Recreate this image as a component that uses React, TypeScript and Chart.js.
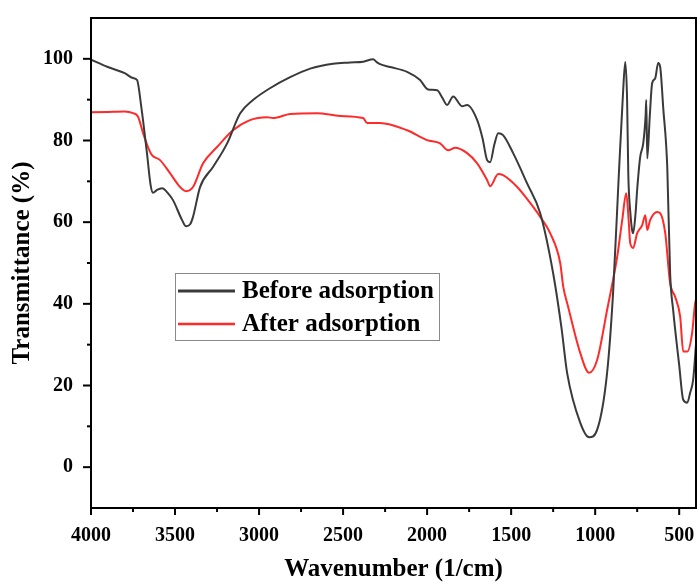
import React, { useEffect, useRef } from "react";
import { Chart, registerables } from "chart.js";

Chart.register(...registerables);

const seriesNames = ["Before adsorption", "After adsorption"];

const beforeX = [4000, 3900, 3800, 3750, 3726, 3700, 3667, 3645, 3631, 3607, 3577, 3540, 3512, 3458, 3435, 3410, 3393, 3351, 3274, 3190, 3113, 3036, 2935, 2815, 2696, 2560, 2458, 2380, 2321, 2300, 2280, 2220, 2119, 2042, 1994, 1940, 1910, 1881, 1845, 1792, 1762, 1702, 1670, 1643, 1625, 1600, 1577, 1548, 1488, 1405, 1327, 1250, 1200, 1167, 1089, 1036, 988, 929, 893, 860, 835, 821, 810, 803, 790, 780, 774, 760, 750, 732, 714, 700, 696, 690, 675, 661, 643, 625, 613, 595, 571, 554, 536, 500, 476, 452, 435, 417, 400];
const beforeY = [99.8, 98, 96.5, 95.3, 94.8, 88, 76.9, 69, 67.2, 67.9, 68.3, 67, 65.4, 60.5, 59, 59.5, 61.3, 68.6, 73.5, 79.3, 86.6, 89.9, 92.8, 95.5, 97.6, 98.8, 99.1, 99.3, 99.9, 99.2, 98.7, 98, 96.8, 94.8, 92.5, 92.3, 90.5, 88.7, 90.8, 88.4, 88.7, 85, 80.5, 75.2, 74.7, 79, 81.8, 81.3, 76.9, 69.5, 62.2, 47.5, 34, 23.1, 10.9, 7.3, 9.2, 23.1, 43, 71, 91, 99.2, 90, 72, 62, 58, 57.3, 62, 68, 76, 79.3, 86, 89.9, 75.6, 86, 94, 95.2, 99, 98, 88, 73.5, 47.5, 38.5, 25, 16.5, 15.8, 18.2, 21.4, 30];

const afterX = [4000, 3900, 3800, 3750, 3720, 3690, 3661, 3637, 3589, 3530, 3470, 3435, 3393, 3333, 3250, 3155, 3054, 2952, 2917, 2815, 2655, 2518, 2381, 2357, 2280, 2119, 2000, 1923, 1875, 1833, 1762, 1702, 1643, 1625, 1577, 1548, 1464, 1387, 1327, 1268, 1208, 1190, 1161, 1089, 1036, 988, 929, 869, 839, 815, 800, 792, 774, 750, 720, 702, 690, 673, 631, 613, 583, 554, 524, 494, 476, 452, 423, 405, 400];
const afterY = [86.9, 87, 87.1, 86.7, 85.8, 81.8, 78.4, 76.4, 75.2, 72, 68.6, 67.6, 68.6, 74.4, 78.4, 82.5, 85, 85.7, 85.5, 86.5, 86.7, 86, 85.5, 84.3, 84.3, 82.5, 80.1, 79.3, 77.6, 78.2, 76.9, 74.4, 70.3, 68.8, 71.8, 71.5, 68.6, 64.7, 61.3, 57.3, 50, 44.2, 39.3, 28, 23.1, 26.3, 38.5, 51.5, 60.5, 67.1, 60, 55, 53.7, 57.3, 59.3, 61.7, 58.1, 60.5, 62.5, 62.2, 57.3, 45.1, 41.7, 36.8, 28.3, 28.3, 32.9, 40.2, 41];

const xTicks = [4000, 3500, 3000, 2500, 2000, 1500, 1000, 500];
const xMinorTicks = [3750, 3250, 2750, 2250, 1750, 1250, 750];
const yTicks = [0, 20, 40, 60, 80, 100];
const yMinorTicks = [10, 30, 50, 70, 90];

const colors = ["#3a3a3a", "#ff2a2a"];
const FONT = "'Liberation Serif', 'Times New Roman', serif";

const framePlugin = {
  id: "frame",
  afterDatasetsDraw(chart: any) {
    const { ctx, chartArea: a, scales } = chart;
    const xs = scales.x;
    const ys = scales.y;
    ctx.save();
    ctx.strokeStyle = "#000";
    ctx.lineWidth = 2;
    ctx.strokeRect(a.left, a.top, a.right - a.left, a.bottom - a.top);
    ctx.lineWidth = 2;
    const drawX = (v: number, len: number) => {
      const p = xs.getPixelForValue(v);
      ctx.beginPath();
      ctx.moveTo(p, a.bottom);
      ctx.lineTo(p, a.bottom + len);
      ctx.stroke();
    };
    const drawY = (v: number, len: number) => {
      const p = ys.getPixelForValue(v);
      ctx.beginPath();
      ctx.moveTo(a.left, p);
      ctx.lineTo(a.left - len, p);
      ctx.stroke();
    };
    xTicks.forEach((v) => drawX(v, 7));
    xMinorTicks.forEach((v) => drawX(v, 4));
    yTicks.forEach((v) => drawY(v, 8));
    yMinorTicks.forEach((v) => drawY(v, 4));

    // legend
    const bx = a.left + 84;
    const by = a.top + 255;
    const bw = 264;
    const bh = 67;
    ctx.fillStyle = "#fff";
    ctx.fillRect(bx, by, bw, bh);
    ctx.strokeStyle = "#8a8a8a";
    ctx.lineWidth = 1;
    ctx.strokeRect(bx + 0.5, by + 0.5, bw, bh);
    ctx.font = `bold 25px ${FONT}`;
    ctx.textBaseline = "middle";
    ctx.textAlign = "left";
    chart.data.datasets.forEach((ds: any, i: number) => {
      const ly = by + 18 + i * 33;
      ctx.strokeStyle = ds.borderColor;
      ctx.lineWidth = i === 0 ? 3 : 2.5;
      ctx.beginPath();
      ctx.moveTo(bx + 3, ly);
      ctx.lineTo(bx + 60, ly);
      ctx.stroke();
      ctx.fillStyle = "#000";
      ctx.fillText(ds.label, bx + 67, ly + 1);
    });
    ctx.restore();
  },
};

export default function App() {
  const ref = useRef<HTMLCanvasElement>(null);
  useEffect(() => {
    if (!ref.current) return;
    const mk = (xs: number[], ys: number[]) => xs.map((x, i) => ({ x, y: ys[i] }));
    const chart = new Chart(ref.current, {
      type: "line",
      data: {
        datasets: [
          {
            label: seriesNames[0],
            data: mk(beforeX, beforeY),
            borderColor: colors[0],
            borderWidth: 2,
            pointRadius: 0,
            cubicInterpolationMode: "monotone",
          },
          {
            label: seriesNames[1],
            data: mk(afterX, afterY),
            borderColor: colors[1],
            borderWidth: 2,
            pointRadius: 0,
            cubicInterpolationMode: "monotone",
          },
        ],
      },
      options: {
        animation: false,
        responsive: false,
        devicePixelRatio: 1,
        layout: { padding: { top: 18, right: 1, left: 0, bottom: 0 } },
        plugins: { legend: { display: false }, tooltip: { enabled: false } },
        scales: {
          x: {
            type: "linear",
            reverse: true,
            min: 400,
            max: 4000,
            afterBuildTicks: (s: any) => {
              s.ticks = xTicks.map((v) => ({ value: v }));
            },
            afterFit: (s: any) => {
              s.height = 77;
              s.paddingLeft = 0;
              s.paddingRight = 0;
            },
            grid: { display: false, drawTicks: false },
            border: { display: false },
            ticks: {
              padding: 16,
              color: "#000",
              font: { family: FONT, size: 20, weight: "bold" },
              maxRotation: 0,
              autoSkip: false,
              callback: (v: any) => String(v),
            },
            title: {
              display: true,
              text: "Wavenumber (1/cm)",
              color: "#000",
              font: { family: FONT, size: 25, weight: "bold" },
              padding: { top: 0, bottom: 0 },
            },
          },
          y: {
            type: "linear",
            min: -10,
            max: 110,
            afterBuildTicks: (s: any) => {
              s.ticks = yTicks.map((v) => ({ value: v }));
            },
            afterFit: (s: any) => {
              s.width = 91;
              s.paddingTop = 0;
              s.paddingBottom = 0;
            },
            grid: { display: false, drawTicks: false },
            border: { display: false },
            ticks: {
              padding: 18,
              color: "#000",
              font: { family: FONT, size: 20, weight: "bold" },
              autoSkip: false,
              callback: (v: any) => String(v),
            },
            title: {
              display: true,
              text: "Transmittance (%)",
              color: "#000",
              font: { family: FONT, size: 25, weight: "bold" },
              padding: { top: 8, bottom: 0 },
            },
          },
        },
      } as any,
      plugins: [framePlugin],
    });
    return () => chart.destroy();
  }, []);
  return (
    <div style={{ position: "fixed", left: 0, top: 0, width: 697, height: 585, background: "#fff" }}>
      <canvas ref={ref} width={697} height={585} style={{ width: 697, height: 585, display: "block" }} />
    </div>
  );
}
